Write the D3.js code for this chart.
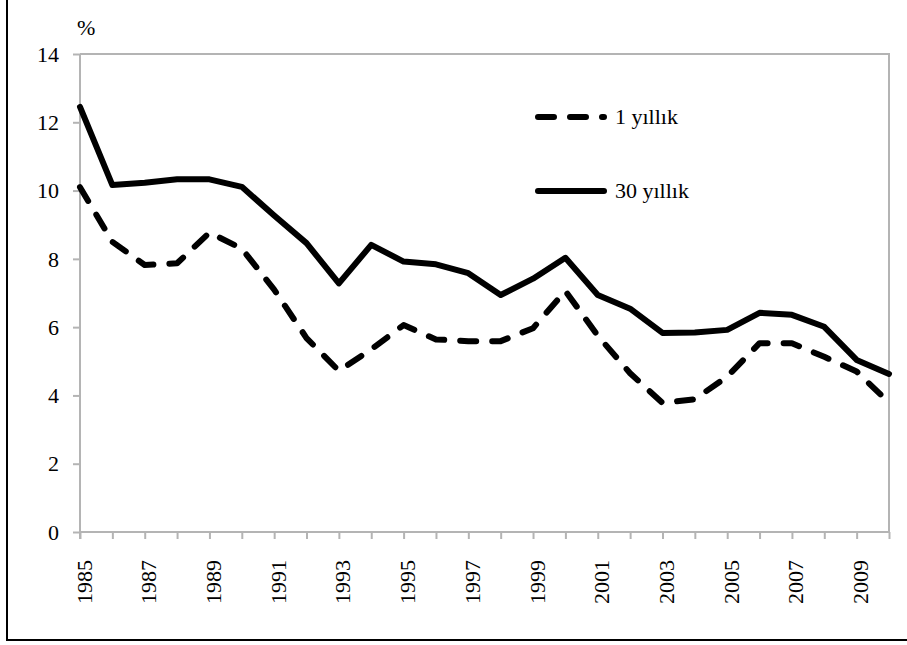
<!DOCTYPE html>
<html>
<head>
<meta charset="utf-8">
<script src="https://cdn.jsdelivr.net/npm/d3@7"></script>
<style>
	body { margin: 0; background: #fff; }
	text { font-family: "Liberation Serif", "Times New Roman", serif; font-size: 22px; fill: #000; }
</style>
</head>
<body>
<script>

let width = 907;
let height = 645;

let margins = {
	top: 54,
	right: 18,
	bottom: 113,
	left: 80
};

// Data
let years = [1985, 1986, 1987, 1988, 1989, 1990, 1991, 1992, 1993, 1994, 1995, 1996, 1997,
	1998, 1999, 2000, 2001, 2002, 2003, 2004, 2005, 2006, 2007, 2008, 2009, 2010];

let oneYear = [10.1, 8.5, 7.82, 7.87, 8.77, 8.3, 7.1, 5.68, 4.72, 5.35, 6.06, 5.64, 5.59,
	5.59, 5.97, 7.06, 5.75, 4.65, 3.78, 3.89, 4.55, 5.53, 5.53, 5.13, 4.7, 3.79];

let thirtyYear = [12.45, 10.16, 10.23, 10.33, 10.33, 10.11, 9.27, 8.46, 7.28, 8.41, 7.92, 7.84, 7.58,
	6.94, 7.42, 8.03, 6.94, 6.54, 5.83, 5.84, 5.92, 6.42, 6.36, 6.01, 5.04, 4.63];

let yTicks = [0, 2, 4, 6, 8, 10, 12, 14];
let xLabels = [1985, 1987, 1989, 1991, 1993, 1995, 1997, 1999, 2001, 2003, 2005, 2007, 2009];

let series = [
	{title: "1 yıllık", values: oneYear, dash: "16,16"},
	{title: "30 yıllık", values: thirtyYear, dash: null}
];

let xScale = d3.scaleLinear()
	.range([margins.left, width - margins.right])
	.domain([1985, 2010]);

let yScale = d3.scaleLinear()
	.range([height - margins.bottom, margins.top])
	.domain([0, 14]);

let axisColor = "#b4b4b4";

// Create the svg
let svg = d3.select("body")
	.append("svg")
		.attr("width", width)
		.attr("height", height);

// Outer frame (only left and bottom edges are in view)
svg.append("rect")
	.attr("x", 7)
	.attr("y", -5)
	.attr("width", width + 10)
	.attr("height", 645)
	.style("fill", "none")
	.style("stroke", "#000")
	.style("stroke-width", 2);

// Plot area border (top and right)
svg.append("path")
	.attr("d", "M" + xScale(1985) + "," + yScale(14) + "H" + xScale(2010) + "V" + yScale(0))
	.style("fill", "none")
	.style("stroke", axisColor)
	.style("stroke-width", 2);

// Y axis
let yAxis = d3.axisLeft(yScale)
	.tickValues(yTicks)
	.tickSize(7)
	.tickPadding(14)
	.tickFormat(d3.format("d"));

let gy = svg.append("g")
	.attr("class", "y axis")
	.attr("transform", "translate(" + margins.left + ",0)")
	.call(yAxis);

gy.select(".domain").remove();
gy.selectAll("line").style("stroke", axisColor).style("stroke-width", 2);
gy.selectAll("text").attr("dy", "0.33em").style("font-size", "22px");

svg.append("line")
	.attr("x1", margins.left)
	.attr("x2", margins.left)
	.attr("y1", yScale(14))
	.attr("y2", yScale(0) + 7)
	.style("stroke", axisColor)
	.style("stroke-width", 2);

// X axis
let xAxis = d3.axisBottom(xScale)
	.tickValues(years)
	.tickSize(7)
	.tickFormat(d => xLabels.includes(d) ? d : "");

let gx = svg.append("g")
	.attr("class", "x axis")
	.attr("transform", "translate(0," + yScale(0) + ")")
	.call(xAxis);

gx.select(".domain")
	.attr("d", "M" + margins.left + ",0H" + (width - margins.right))
	.style("stroke", axisColor)
	.style("stroke-width", 2);
gx.selectAll("line").style("stroke", axisColor).style("stroke-width", 2);
gx.selectAll("text")
	.attr("y", 0)
	.attr("dy", "0.5em")
	.attr("text-anchor", "end")
	.attr("transform", "translate(0,28) rotate(-90)")
	.style("font-size", "22px");

// Lines
let line = d3.line()
	.x((d, i) => xScale(years[i]))
	.y(d => yScale(d));

series.forEach((s) => {
	svg.append("path")
		.datum(s.values)
		.attr("d", line)
		.style("fill", "none")
		.style("stroke", "#000")
		.style("stroke-width", 6)
		.style("stroke-linejoin", "round")
		.style("stroke-linecap", "round")
		.style("stroke-dasharray", s.dash);
});

// Legend
let legend = svg.selectAll("g.legend")
	.data(series)
	.enter().append("g")
	.attr("class", "legend")
	.attr("transform", (d, i) => "translate(538," + (117 + i * 74) + ")");

legend.append("line")
	.attr("x1", 0)
	.attr("x2", 66)
	.style("stroke", "#000")
	.style("stroke-width", 6)
	.style("stroke-linecap", "round")
	.style("stroke-dasharray", d => d.dash);

legend.append("text")
	.attr("x", 77)
	.attr("y", 7)
	.text(d => d.title);

// Unit label
svg.append("text")
	.attr("x", 77)
	.attr("y", 35)
	.text("%");

</script>
</body>
</html>
